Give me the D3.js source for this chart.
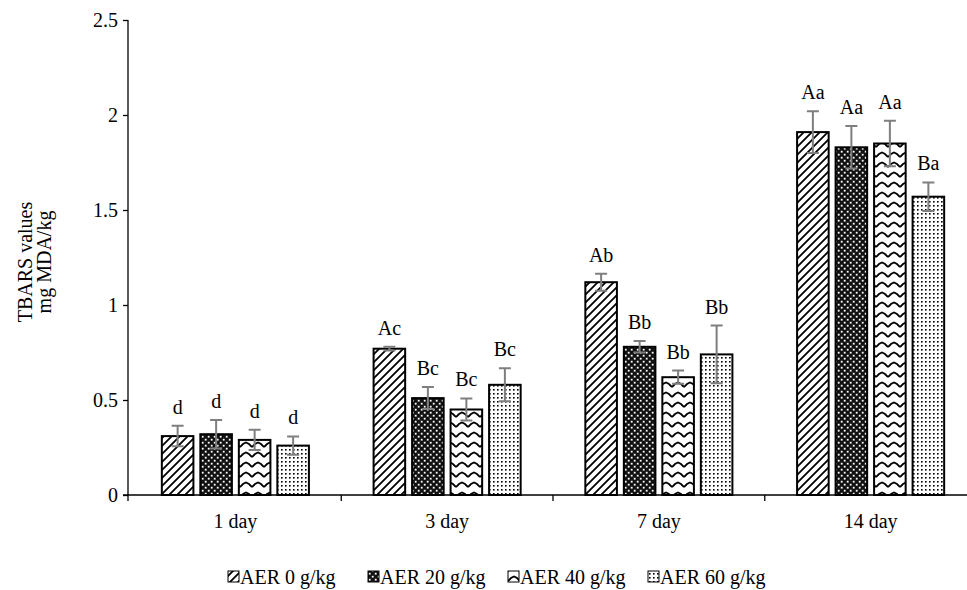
<!DOCTYPE html>
<html>
<head>
<meta charset="utf-8">
<script src="https://cdn.jsdelivr.net/npm/d3@7"></script>
<style>
  body { margin: 0; background: #fff; }
  svg text { font-family: "Liberation Serif", "Times New Roman", serif; fill: #000; }
</style>
</head>
<body>
<div id="chart"></div>
<script>
// Data
const days = ['1 day', '3 day', '7 day', '14 day']
const seriesNames = ['AER 0 g/kg', 'AER 20 g/kg', 'AER 40 g/kg', 'AER 60 g/kg']
// values per series, one entry per day
const aer0 = [0.31, 0.77, 1.12, 1.91]
const aer20 = [0.32, 0.51, 0.78, 1.83]
const aer40 = [0.29, 0.45, 0.62, 1.85]
const aer60 = [0.26, 0.58, 0.74, 1.57]
// standard deviations
const err0 = [0.054, 0.01, 0.045, 0.11]
const err20 = [0.075, 0.058, 0.03, 0.112]
const err40 = [0.053, 0.058, 0.035, 0.12]
const err60 = [0.048, 0.087, 0.152, 0.075]
// significance letters
const lab0 = ['d', 'Ac', 'Ab', 'Aa']
const lab20 = ['d', 'Bc', 'Bb', 'Aa']
const lab40 = ['d', 'Bc', 'Bb', 'Aa']
const lab60 = ['d', 'Bc', 'Bb', 'Ba']
const yTicks = [0, 0.5, 1, 1.5, 2, 2.5]

const values = [aer0, aer20, aer40, aer60]
const errors = [err0, err20, err40, err60]
const letters = [lab0, lab20, lab40, lab60]

const dataset = []
days.forEach((day, i) => {
  seriesNames.forEach((s, j) => {
    dataset.push({ day, series: s, idx: j, value: values[j][i], err: errors[j][i], label: letters[j][i] })
  })
})

// Dimensions
const width = 967
const height = 590
const fontSize = '20px'

const svg = d3.select('#chart')
  .append('svg')
  .attr('width', width)
  .attr('height', height)

// Patterns
const defs = svg.append('defs')

const p0 = defs.append('pattern')
  .attr('id', 'pat0')
  .attr('patternUnits', 'userSpaceOnUse')
  .attr('width', 8).attr('height', 8)
p0.append('rect').attr('width', 8).attr('height', 8).attr('fill', '#fff')
p0.append('path')
  .attr('d', 'M-2,2 L2,-2 M0,8 L8,0 M6,10 L10,6')
  .attr('stroke', '#000').attr('stroke-width', 1.8)

const p1 = defs.append('pattern')
  .attr('id', 'pat1')
  .attr('patternUnits', 'userSpaceOnUse')
  .attr('width', 6).attr('height', 6)
p1.append('rect').attr('width', 6).attr('height', 6).attr('fill', '#111')
p1.append('rect').attr('x', 0.8).attr('y', 0.8).attr('width', 1.8).attr('height', 1.8).attr('fill', '#fff')
p1.append('rect').attr('x', 3.8).attr('y', 3.8).attr('width', 1.8).attr('height', 1.8).attr('fill', '#fff')

const p2 = defs.append('pattern')
  .attr('id', 'pat2')
  .attr('patternUnits', 'userSpaceOnUse')
  .attr('width', 12).attr('height', 10)
p2.append('rect').attr('width', 12).attr('height', 10).attr('fill', '#fff')
p2.append('path')
  .attr('d', 'M0,7 L3,4 L6,2.5 L9,4 L12,7')
  .attr('fill', 'none')
  .attr('stroke', '#000').attr('stroke-width', 1.8)

const p3 = defs.append('pattern')
  .attr('id', 'pat3')
  .attr('patternUnits', 'userSpaceOnUse')
  .attr('width', 4).attr('height', 4)
p3.append('rect').attr('width', 4).attr('height', 4).attr('fill', '#fff')
p3.append('rect').attr('x', 1).attr('y', 1).attr('width', 1.6).attr('height', 1.6).attr('fill', '#000')

// Scales
const yScale = d3.scaleLinear()
  .domain([0, 2.5])
  .range([495, 20])

const x0 = d3.scaleBand()
  .domain(days)
  .range([129.5, 976.5])

const x1 = d3.scaleBand()
  .domain(seriesNames)
  .range([0, x0.bandwidth()])
  .paddingInner(0.18)
  .paddingOuter(0.84)

// Bars
svg.append('g')
  .selectAll('rect')
  .data(dataset)
  .join('rect')
  .attr('x', d => x0(d.day) + x1(d.series))
  .attr('y', d => yScale(d.value))
  .attr('width', x1.bandwidth())
  .attr('height', d => yScale(0) - yScale(d.value))
  .attr('fill', d => `url(#pat${d.idx})`)
  .attr('stroke', '#000')
  .attr('stroke-width', 2)

// Error bars
const errG = svg.append('g')
  .attr('stroke', '#7f7f7f')
  .attr('stroke-width', 2)
  .attr('fill', 'none')

errG.selectAll('path')
  .data(dataset)
  .join('path')
  .attr('d', d => {
    const cx = x0(d.day) + x1(d.series) + x1.bandwidth() / 2
    const top = yScale(d.value + d.err)
    const bot = yScale(d.value - d.err)
    return `M${cx - 6},${top} H${cx + 6} M${cx},${top} V${bot} M${cx - 6},${bot} H${cx + 6}`
  })

// Letters
svg.append('g')
  .selectAll('text')
  .data(dataset)
  .join('text')
  .attr('x', d => x0(d.day) + x1(d.series) + x1.bandwidth() / 2)
  .attr('y', d => yScale(d.value + d.err) - 12)
  .attr('text-anchor', 'middle')
  .style('font-size', fontSize)
  .text(d => d.label)

// Axis
// Y axis
const yAxis = d3.axisLeft(yScale)
  .tickValues(yTicks)
  .tickSize(5)
  .tickPadding(5)
  .tickFormat(d3.format(''))

const yAxisGroup = svg.append('g')
  .attr('transform', 'translate(128,0)')
  .call(yAxis)
yAxisGroup.select('.domain').remove()
yAxisGroup.append('line')
  .attr('y1', yScale(2.5)).attr('y2', yScale(0))
  .attr('stroke', '#000').attr('stroke-width', 1.3)
yAxisGroup.selectAll('.tick line').attr('stroke', '#000').attr('stroke-width', 1.3)
yAxisGroup.selectAll('.tick text')
  .style('font-size', fontSize)
  .style('font-family', '"Liberation Serif", serif')
  .attr('fill', '#000')

const yTitle = svg.append('text')
  .attr('transform', 'translate(32,262) rotate(-90)')
  .attr('text-anchor', 'middle')
  .style('font-size', fontSize)
yTitle.append('tspan').attr('x', 0).attr('y', 0).text('TBARS values')
yTitle.append('tspan').attr('x', 0).attr('y', 19).text('mg MDA/kg')

// X axis
const xAxis = d3.axisBottom(x0)
  .tickSize(0)
  .tickPadding(19)

const xAxisGroup = svg.append('g')
  .attr('transform', `translate(0,${yScale(0)})`)
  .call(xAxis)
xAxisGroup.select('.domain').remove()
xAxisGroup.selectAll('.tick text')
  .style('font-size', fontSize)
  .style('font-family', '"Liberation Serif", serif')
  .attr('fill', '#000')

xAxisGroup.append('line')
  .attr('x1', 123).attr('x2', width)
  .attr('stroke', '#000').attr('stroke-width', 1.3)

xAxisGroup.selectAll('.sep')
  .data(days)
  .join('line')
  .attr('class', 'sep')
  .attr('x1', d => x0(d) === x0(days[0]) ? 128 : x0(d))
  .attr('x2', d => x0(d) === x0(days[0]) ? 128 : x0(d))
  .attr('y1', 0).attr('y2', 6)
  .attr('stroke', '#000').attr('stroke-width', 1.3)

// Legend
const legend = svg.append('g')
  .attr('transform', 'translate(228,584)')

const item = legend.selectAll('g')
  .data(seriesNames)
  .join('g')
  .attr('transform', (d, i) => `translate(${i * 140},0)`)

item.append('rect')
  .attr('x', 0).attr('y', -13)
  .attr('width', 11).attr('height', 11)
  .attr('fill', (d, i) => `url(#pat${i})`)
  .attr('stroke', '#000')
  .attr('stroke-width', 1)

item.append('text')
  .attr('x', 12)
  .attr('y', 0)
  .style('font-size', fontSize)
  .text(d => d)
</script>
</body>
</html>
